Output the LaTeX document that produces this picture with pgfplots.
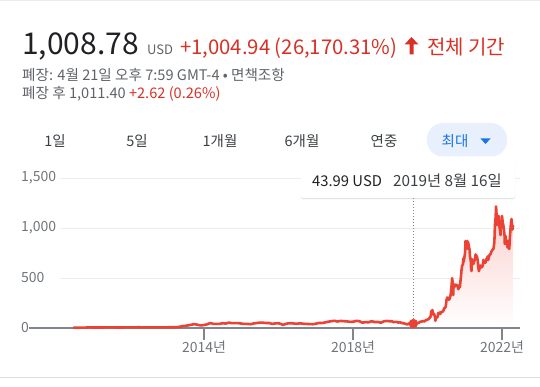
\documentclass[border=0pt]{standalone}
\usepackage{pgfplots}
\pgfplotsset{compat=1.18}
\usepackage{pgfplotstable}
\usepackage{fontspec}
\setmainfont{Noto Sans CJK KR}
\usetikzlibrary{shadows}
\definecolor{linered}{HTML}{EA4335}
\definecolor{txtred}{HTML}{D93025}
\definecolor{dark}{HTML}{202124}
\definecolor{gtext}{HTML}{5F6368}
\definecolor{lgtext}{HTML}{70757A}
\definecolor{gridc}{HTML}{EDEDED}
\definecolor{basec}{HTML}{80868B}
\definecolor{gblue}{HTML}{1A73E8}
\definecolor{pill}{HTML}{E8F0FE}
\definecolor{sepc}{HTML}{DADCE0}
\definecolor{tabtext}{HTML}{3C4043}
\newcommand{\fs}[1]{\fontsize{#1}{#1}\selectfont}

\pgfplotstableread{
x y
2010.49 4.78
2010.55 3.2
2010.58 4.0
2010.67 4.0
2010.75 4.1
2010.83 4.2
2010.87 6.5
2010.92 7.0
2011.00 5.3
2011.08 4.8
2011.17 4.8
2011.25 5.5
2011.33 5.5
2011.42 5.8
2011.50 5.8
2011.58 5.6
2011.67 4.9
2011.75 4.9
2011.83 5.8
2011.92 6.5
2012.00 5.7
2012.08 5.5
2012.17 6.9
2012.25 7.4
2012.33 6.6
2012.42 6.0
2012.50 6.3
2012.58 5.6
2012.67 5.7
2012.75 5.9
2012.83 5.6
2012.92 6.5
2013.00 6.8
2013.08 7.5
2013.17 7.0
2013.25 7.6
2013.33 10.8
2013.42 19.5
2013.50 21.5
2013.58 26.9
2013.67 33.8
2013.75 38.7
2013.83 32.0
2013.92 25.5
2014.00 30.1
2014.08 36.2
2014.17 49.8
2014.25 41.7
2014.33 41.5
2014.42 41.3
2014.50 48.0
2014.58 44.6
2014.67 53.9
2014.75 48.5
2014.83 48.3
2014.92 48.8
2015.00 44.5
2015.08 40.6
2015.17 40.6
2015.25 37.8
2015.33 45.1
2015.42 50.1
2015.50 53.7
2015.58 53.3
2015.67 49.9
2015.75 49.7
2015.83 41.2
2015.92 46.0
2016.00 48.0
2016.08 38.2
2016.12 29.6
2016.17 38.3
2016.25 45.9
2016.33 48.1
2016.42 44.7
2016.50 42.5
2016.58 46.7
2016.67 42.5
2016.75 40.8
2016.83 39.5
2016.92 37.8
2017.00 42.7
2017.08 50.4
2017.17 50.0
2017.25 55.7
2017.33 62.8
2017.42 68.2
2017.50 72.3
2017.58 64.7
2017.67 71.1
2017.75 68.2
2017.83 66.4
2017.92 61.7
2018.00 62.3
2018.08 70.9
2018.17 68.7
2018.25 53.2
2018.33 58.8
2018.42 57.0
2018.50 68.6
2018.58 59.8
2018.67 60.3
2018.75 52.9
2018.83 67.5
2018.92 70.1
2019.00 66.6
2019.04 69
2019.08 59
2019.12 61
2019.17 62
2019.21 55
2019.25 56
2019.29 54
2019.33 48
2019.37 47
2019.41 41
2019.44 37
2019.46 36
2019.50 44.7
2019.54 50
2019.58 48.3
2019.62 43.99
2019.67 45
2019.71 48.2
2019.75 50
2019.81 63
2019.83 63
2019.88 70
2019.92 66
2019.96 80
2020.00 83.7
2020.02 88
2020.04 95
2020.06 102
2020.08 113
2020.09 130
2020.10 170
2020.11 149
2020.12 150
2020.13 180
2020.16 134
2020.18 140
2020.20 110
2020.21 72
2020.22 86
2020.23 102
2020.25 105
2020.27 109
2020.29 150
2020.31 146
2020.33 156
2020.34 140
2020.37 160
2020.40 163
2020.42 167
2020.45 200
2020.47 199
2020.49 216
2020.51 280
2020.53 305
2020.55 300
2020.57 283
2020.58 286
2020.60 297
2020.62 330
2020.64 400
2020.65 442
2020.66 498
2020.67 475
2020.69 330
2020.70 440
2020.72 407
2020.73 424
2020.74 429
2020.77 435
2020.80 420
2020.83 388
2020.85 429
2020.87 408
2020.89 490
2020.90 521
2020.91 568
2020.93 630
2020.95 630
2020.96 695
2020.97 661
2020.99 705
2021.01 755
2021.02 870
2021.04 849
2021.05 845
2021.07 870
2021.08 793
2021.09 860
2021.11 816
2021.13 782
2021.14 714
2021.16 676
2021.17 597
2021.18 570
2021.19 690
2021.21 654
2021.23 640
2021.25 668
2021.27 680
2021.29 735
2021.31 725
2021.33 709
2021.35 672
2021.37 589
2021.38 568
2021.40 600
2021.42 625
2021.44 605
2021.46 610
2021.48 620
2021.50 680
2021.52 656
2021.54 650
2021.56 657
2021.58 688
2021.60 700
2021.62 717
2021.63 680
2021.65 712
2021.67 734
2021.69 737
2021.71 760
2021.73 775
2021.75 785
2021.77 792
2021.79 843
2021.80 909
2021.81 1025
2021.83 1114
2021.84 1215
2021.85 1160
2021.86 1030
2021.87 1040
2021.88 1054
2021.89 1100
2021.91 1120
2021.92 1070
2021.93 1017
2021.95 966
2021.96 930
2021.97 1050
2021.99 1057
2022.00 1120
2022.02 1050
2022.03 1040
2022.05 990
2022.07 918
2022.075 840
2022.08 920
2022.10 915
2022.11 860
2022.13 856
2022.15 805
2022.16 870
2022.17 839
2022.18 810
2022.195 790
2022.21 900
2022.23 1000
2022.245 1070
2022.255 1090
2022.27 1030
2022.28 985
2022.29 1020
2022.30 1008.78
}\price

\begin{document}
\begin{tikzpicture}
\path[use as bounding box] (0pt,0pt) rectangle (540pt,386pt);
\begin{axis}[
  at={(60pt,58pt)}, anchor=south west,
  scale only axis, width=460pt, height=150pt,
  xmin=2010.134, xmax=2022.483, ymin=0, ymax=1500,
  axis line style={draw=none},
  clip=false,
  ytick={0,500,1000,1500},
  yticklabels={0,500,{1,000},{1,500}},
  ytick style={draw=none},
  yticklabel style={anchor=west, xshift=-39pt, inner sep=0pt, font=\fs{14}, text=lgtext},
  ymajorgrids, grid style={gridc, line width=1pt},
  xtick={2014,2018,2022},
  xticklabels={2014년,2018년,2022년},
  xtick pos=bottom, xtick align=outside, major tick length=12pt,
  x tick style={basec, line width=1.2pt},
  xticklabel style={font=\fs{14}, text=lgtext, inner sep=1pt},
]
\addplot[draw=none, top color=linered!25!white, bottom color=white] table[x=x,y=y] {\price} \closedcycle;
\draw[basec, line width=1.2pt] (axis cs:2009.30,0) -- (axis cs:2022.483,0);
\draw[basec, line width=1pt, dash pattern=on 1.2pt off 1.8pt] (axis cs:2019.62,0) -- (axis cs:2019.62,1300);
\addplot[linered, line width=2.6pt, line join=round] table[x=x,y=y] {\price};
\addplot[only marks, mark=*, mark size=4.5pt, color=linered] coordinates {(2019.62,43.99)};
\end{axis}
\begin{scope}[x=1pt,y=1pt]
\draw[gridc, line width=1.5pt] (0,386) -- (540,386);
\draw[sepc, line width=1pt] (0,9) -- (540,9);
% header
\node[anchor=base west, inner sep=0, text=dark] at (22,331) {\fs{30}1,008.78};
\node[anchor=base west, inner sep=0, text=gtext] at (147,331) {\fs{13}USD};
\node[anchor=base west, inner sep=0, text=txtred] at (180,331) {\fs{20.3}+1,004.94 (26,170.31\%)};
\fill[txtred] (411.5,349) -- (418.5,341.5) -- (413.5,341.5) -- (413.5,331.5) -- (409.5,331.5) -- (409.5,341.5) -- (404.5,341.5) -- cycle;
\node[anchor=base west, inner sep=0, text=txtred] at (427,331) {\fs{20}전체 기간};
\node[anchor=base west, inner sep=0, text=gtext] at (22,305) {\fs{14.6}폐장: 4월 21일 오후 7:59 GMT-4 • 면책조항};
\node[anchor=base west, inner sep=0, text=gtext] at (22,287) {\fs{14.6}폐장 후 1,011.40 \textcolor{txtred}{+2.62 (0.26\%)}};
% tabs
\fill[pill, rounded corners=16pt] (427,229.5) rectangle (507,263);
\node[anchor=base, inner sep=0, text=tabtext] at (55,240) {\fs{14.5}1일};
\node[anchor=base, inner sep=0, text=tabtext] at (137,240) {\fs{14.5}5일};
\node[anchor=base, inner sep=0, text=tabtext] at (220,240) {\fs{14.5}1개월};
\node[anchor=base, inner sep=0, text=tabtext] at (302,240) {\fs{14.5}6개월};
\node[anchor=base, inner sep=0, text=tabtext] at (384,240) {\fs{14.5}연중};
\node[anchor=base, inner sep=0, text=gblue] at (455,240) {\fs{14.5}최대};
\fill[gblue] (480.5,247.5) -- (490.5,247.5) -- (485.5,242) -- cycle;
% tooltip
\fill[white, rounded corners=2pt, drop shadow={shadow xshift=0pt, shadow yshift=-1pt, opacity=0.25}] (301,188) rectangle (515,225);
\node[anchor=base west, inner sep=0, text=dark] at (312,200) {\fs{14.8}43.99 USD};
\node[anchor=base west, inner sep=0, text=tabtext] at (393,200) {\fs{15.3}2019년 8월 16일};
\end{scope}
\end{tikzpicture}
\end{document}
